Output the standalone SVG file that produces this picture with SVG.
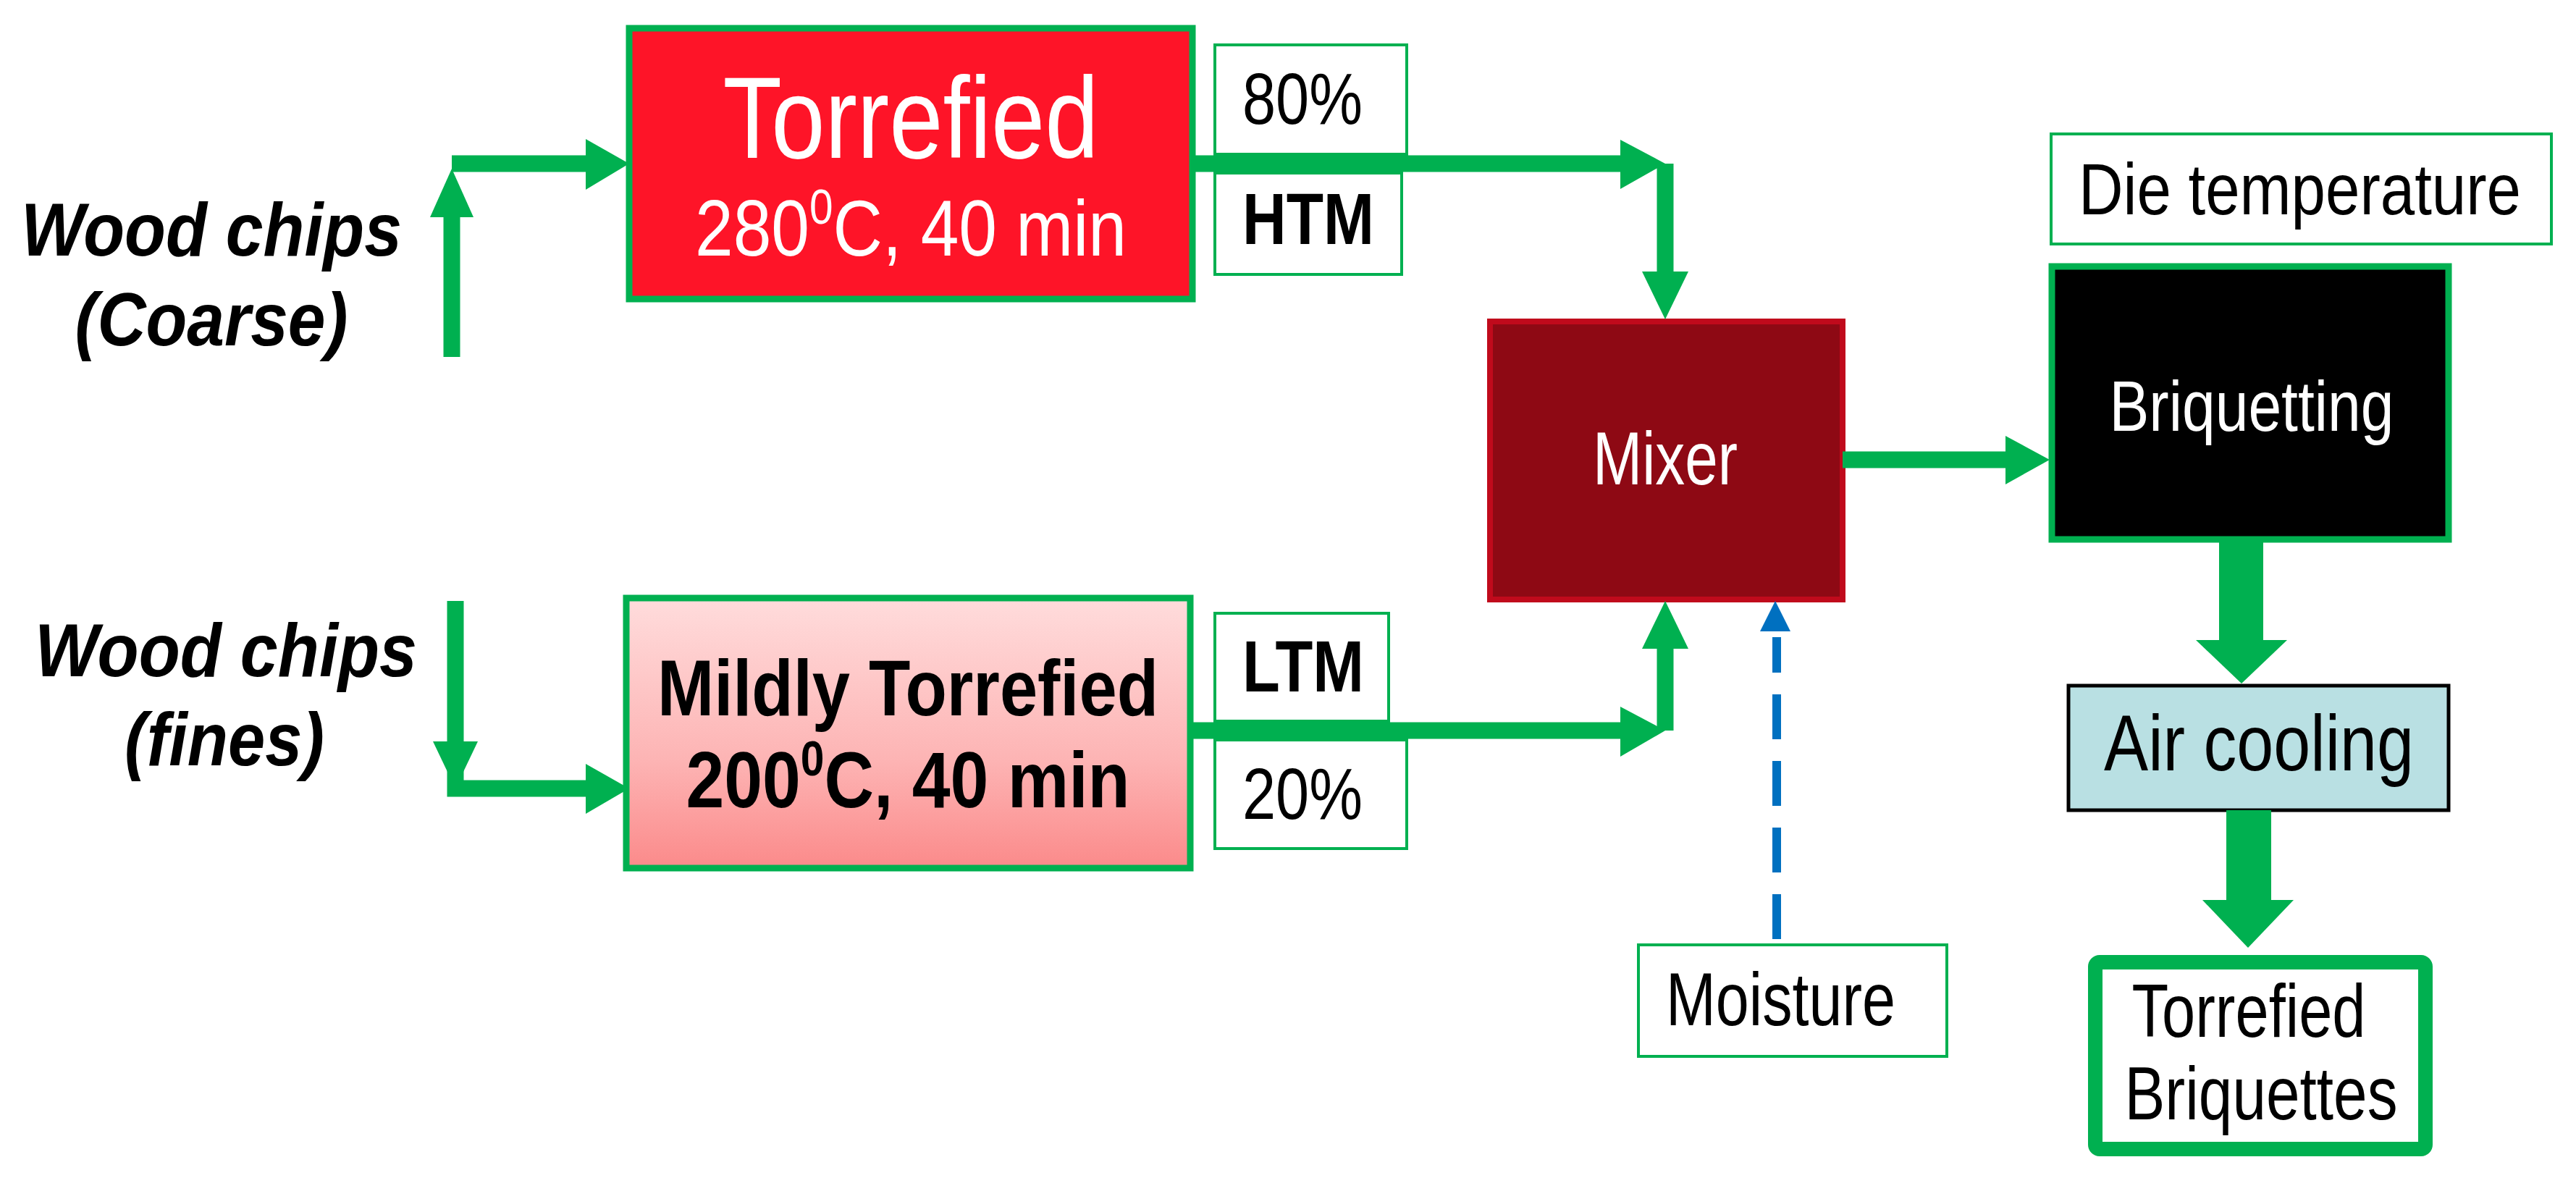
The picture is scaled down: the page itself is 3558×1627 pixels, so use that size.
<svg xmlns="http://www.w3.org/2000/svg" width="3558" height="1627" viewBox="0 0 3558 1627">
<style>
text{font-family:"Liberation Sans",Arial,sans-serif;fill:#000}
.w{fill:#fff}
.b{font-weight:bold}
.lbl{fill:#fff;stroke:#00b050;stroke-width:4}
.ln{stroke:#00b050;stroke-width:23;fill:none}
.hd{fill:#00b050}
</style>
<defs>
<linearGradient id="pink" x1="0" y1="0" x2="0" y2="1">
<stop offset="0" stop-color="#ffdcdc"/><stop offset="0.6" stop-color="#fdb4b4"/><stop offset="1" stop-color="#fb8a8a"/>
</linearGradient>
</defs>
<rect width="3558" height="1627" fill="#fff"/>

<g id="coarse"><text class="b" font-style="italic" font-size="104" x="292" y="353" text-anchor="middle" textLength="526" lengthAdjust="spacingAndGlyphs">Wood chips</text>
<text class="b" font-style="italic" font-size="104" x="292" y="477" text-anchor="middle" textLength="377" lengthAdjust="spacingAndGlyphs">(Coarse)</text></g>
<g id="fines"><text class="b" font-style="italic" font-size="104" x="312" y="934" text-anchor="middle" textLength="528" lengthAdjust="spacingAndGlyphs">Wood chips</text>
<text class="b" font-style="italic" font-size="104" x="310" y="1057" text-anchor="middle" textLength="276" lengthAdjust="spacingAndGlyphs">(fines)</text></g>

<g id="torrefied"><rect x="869" y="39" width="778" height="374" fill="#fe1428" stroke="#00b050" stroke-width="9"/>
<text class="w" font-size="160" x="1258" y="218" text-anchor="middle" textLength="519" lengthAdjust="spacingAndGlyphs">Torrefied</text>
<text class="w" font-size="110" x="1258" y="353" text-anchor="middle" textLength="596" lengthAdjust="spacingAndGlyphs">280<tspan font-size="68" dy="-44">0</tspan><tspan dy="44">C, 40 min</tspan></text></g>

<g id="mildly"><rect x="865" y="826" width="779" height="373" fill="url(#pink)" stroke="#00b050" stroke-width="9"/>
<text class="b" font-size="110" x="1254" y="988" text-anchor="middle" textLength="692" lengthAdjust="spacingAndGlyphs">Mildly Torrefied</text>
<text class="b" font-size="110" x="1254" y="1115" text-anchor="middle" textLength="613" lengthAdjust="spacingAndGlyphs">200<tspan font-size="68" dy="-44">0</tspan><tspan dy="44">C, 40 min</tspan></text></g>

<g id="p80"><rect class="lbl" x="1678" y="62" width="265" height="151"/><text font-size="100" x="1716" y="171" textLength="166" lengthAdjust="spacingAndGlyphs">80%</text></g>
<g id="htm"><rect class="lbl" x="1678" y="239" width="258" height="140"/><text class="b" font-size="100" x="1716" y="337" textLength="182" lengthAdjust="spacingAndGlyphs">HTM</text></g>
<g id="ltm"><rect class="lbl" x="1678" y="847" width="240" height="149"/><text class="b" font-size="100" x="1716" y="955" textLength="168" lengthAdjust="spacingAndGlyphs">LTM</text></g>
<g id="p20"><rect class="lbl" x="1678" y="1022" width="265" height="150"/><text font-size="100" x="1716" y="1131" textLength="166" lengthAdjust="spacingAndGlyphs">20%</text></g>

<g id="mixer"><rect x="2058" y="444" width="487" height="384" fill="#8e0914" stroke="#c00a1c" stroke-width="8"/>
<text class="w" font-size="104" x="2300" y="669" text-anchor="middle" textLength="200" lengthAdjust="spacingAndGlyphs">Mixer</text></g>

<g id="dietemp"><rect class="lbl" x="2833" y="185" width="691" height="152"/><text font-size="100" x="2871" y="296" textLength="611" lengthAdjust="spacingAndGlyphs">Die temperature</text></g>

<g id="briquetting"><rect x="2834" y="368" width="548" height="377" fill="#000" stroke="#00b050" stroke-width="9"/>
<text class="w" font-size="98" x="3110" y="595" text-anchor="middle" textLength="393" lengthAdjust="spacingAndGlyphs">Briquetting</text></g>

<g id="aircooling"><rect x="2857" y="947" width="525" height="172" fill="#b9e0e3" stroke="#000" stroke-width="5"/>
<text font-size="110" x="3120" y="1064" text-anchor="middle" textLength="428" lengthAdjust="spacingAndGlyphs">Air cooling</text></g>

<g id="product"><rect x="2894" y="1329" width="456" height="258" fill="#fff" stroke="#00b050" stroke-width="20" rx="6"/>
<text font-size="104" x="3106" y="1432" text-anchor="middle" textLength="323" lengthAdjust="spacingAndGlyphs">Torrefied</text>
<text font-size="104" x="3123" y="1546" text-anchor="middle" textLength="377" lengthAdjust="spacingAndGlyphs">Briquettes</text></g>

<g id="moisture"><rect class="lbl" x="2263" y="1305" width="426" height="154"/><text font-size="104" x="2301" y="1416" textLength="317" lengthAdjust="spacingAndGlyphs">Moisture</text></g>

<g id="connectors">
<path class="ln" d="M624 493V290M624 226H815"/>
<polygon class="hd" points="624,233 594,300 654,300"/>
<polygon class="hd" points="869,226 809,192 809,262"/>
<path class="ln" d="M629 830V1089H815M629 830V1030"/>
<polygon class="hd" points="629,1089 598,1024 660,1024"/>
<polygon class="hd" points="869,1089 809,1055 809,1124"/>
<path class="ln" d="M1647 226H2245M2300 226V380"/>
<polygon class="hd" points="2300,226 2238,193 2238,261"/>
<polygon class="hd" points="2300,441 2268,375 2332,375"/>
<path class="ln" d="M1644 1009H2245M2300 1009V890"/>
<polygon class="hd" points="2300,1009 2238,976 2238,1045"/>
<polygon class="hd" points="2300,830 2268,896 2332,896"/>
<path class="ln" d="M2545 635H2780"/>
<polygon class="hd" points="2831,635 2770,602 2770,669"/>
<rect class="hd" x="3065" y="745" width="61" height="142"/>
<polygon class="hd" points="3033,884 3159,884 3096,944"/>
<rect class="hd" x="3075" y="1119" width="62" height="126"/>
<polygon class="hd" points="3042,1243 3168,1243 3105,1309"/>
<path d="M2454 1297V880" stroke="#0070c0" stroke-width="12" stroke-dasharray="62 30" fill="none"/>
<polygon fill="#0070c0" points="2452,830 2431,872 2473,872"/>
</g>
</svg>
